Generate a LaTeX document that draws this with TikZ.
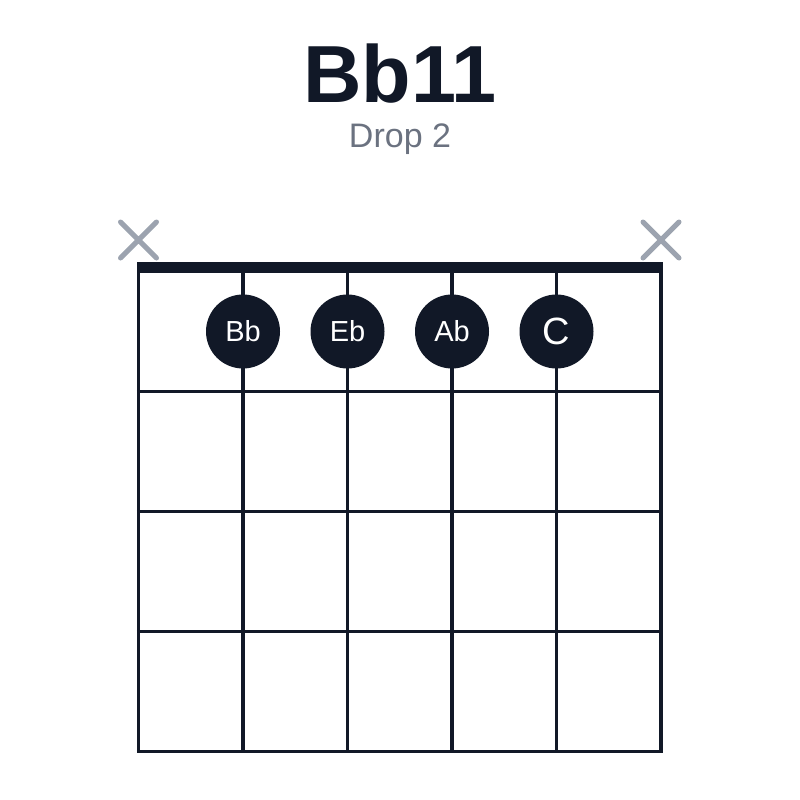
\documentclass[tikz,border=0pt]{standalone}
\usepackage{fontspec}
\setmainfont{Liberation Sans}
\usetikzlibrary{positioning}
\definecolor{chorddark}{HTML}{111827}
\definecolor{chordgray}{HTML}{9CA3AF}
\definecolor{chordsub}{HTML}{6B7280}
\tikzstyle{fretline} = [line width=3.5pt, color=chorddark]
\tikzstyle{mute} = [line width=5pt, color=chordgray, line cap=round]
\tikzstyle{finger} = [circle, fill=chorddark, minimum size=74pt, inner sep=0pt, text=white, font=\fontsize{29}{29}\selectfont]

\begin{document}
\begin{tikzpicture}[x=1pt, y=-1pt]
    \useasboundingbox (0,0) rectangle (800,800);

    % Title
    \node[anchor=base, text=chorddark, font=\fontsize{81}{81}\selectfont\bfseries] (title) at (400,102) {Bb11};
    \node[anchor=base, text=chordsub, font=\fontsize{34}{34}\selectfont] (subtitle) at (400,147) {Drop 2};

    % Nut
    \fill[chorddark] (136.75,262) rectangle (662.75,273);

    % Strings and frets
    \foreach \s in {0,...,5}
        \draw[fretline] (138.5+104.5*\s,267) -- (138.5+104.5*\s,753.4);
    \foreach \f in {1,...,4}
        \draw[fretline] (136.75,271.7+120*\f) -- (662.75,271.7+120*\f);

    % Muted strings
    \draw[mute, shift={(138.5,240)}] (-18,-18) -- (18,18) (-18,18) -- (18,-18);
    \draw[mute, shift={(661,240)}] (-18,-18) -- (18,18) (-18,18) -- (18,-18);

    % Fingers
    \node[finger] (fBb) at (243,331.5) {Bb};
    \node[finger] (fEb) at (347.5,331.5) {Eb};
    \node[finger] (fAb) at (452,331.5) {Ab};
    \node[finger, font=\fontsize{38}{38}\selectfont] (fC) at (556.5,331.5) {C};
\end{tikzpicture}
\end{document}
